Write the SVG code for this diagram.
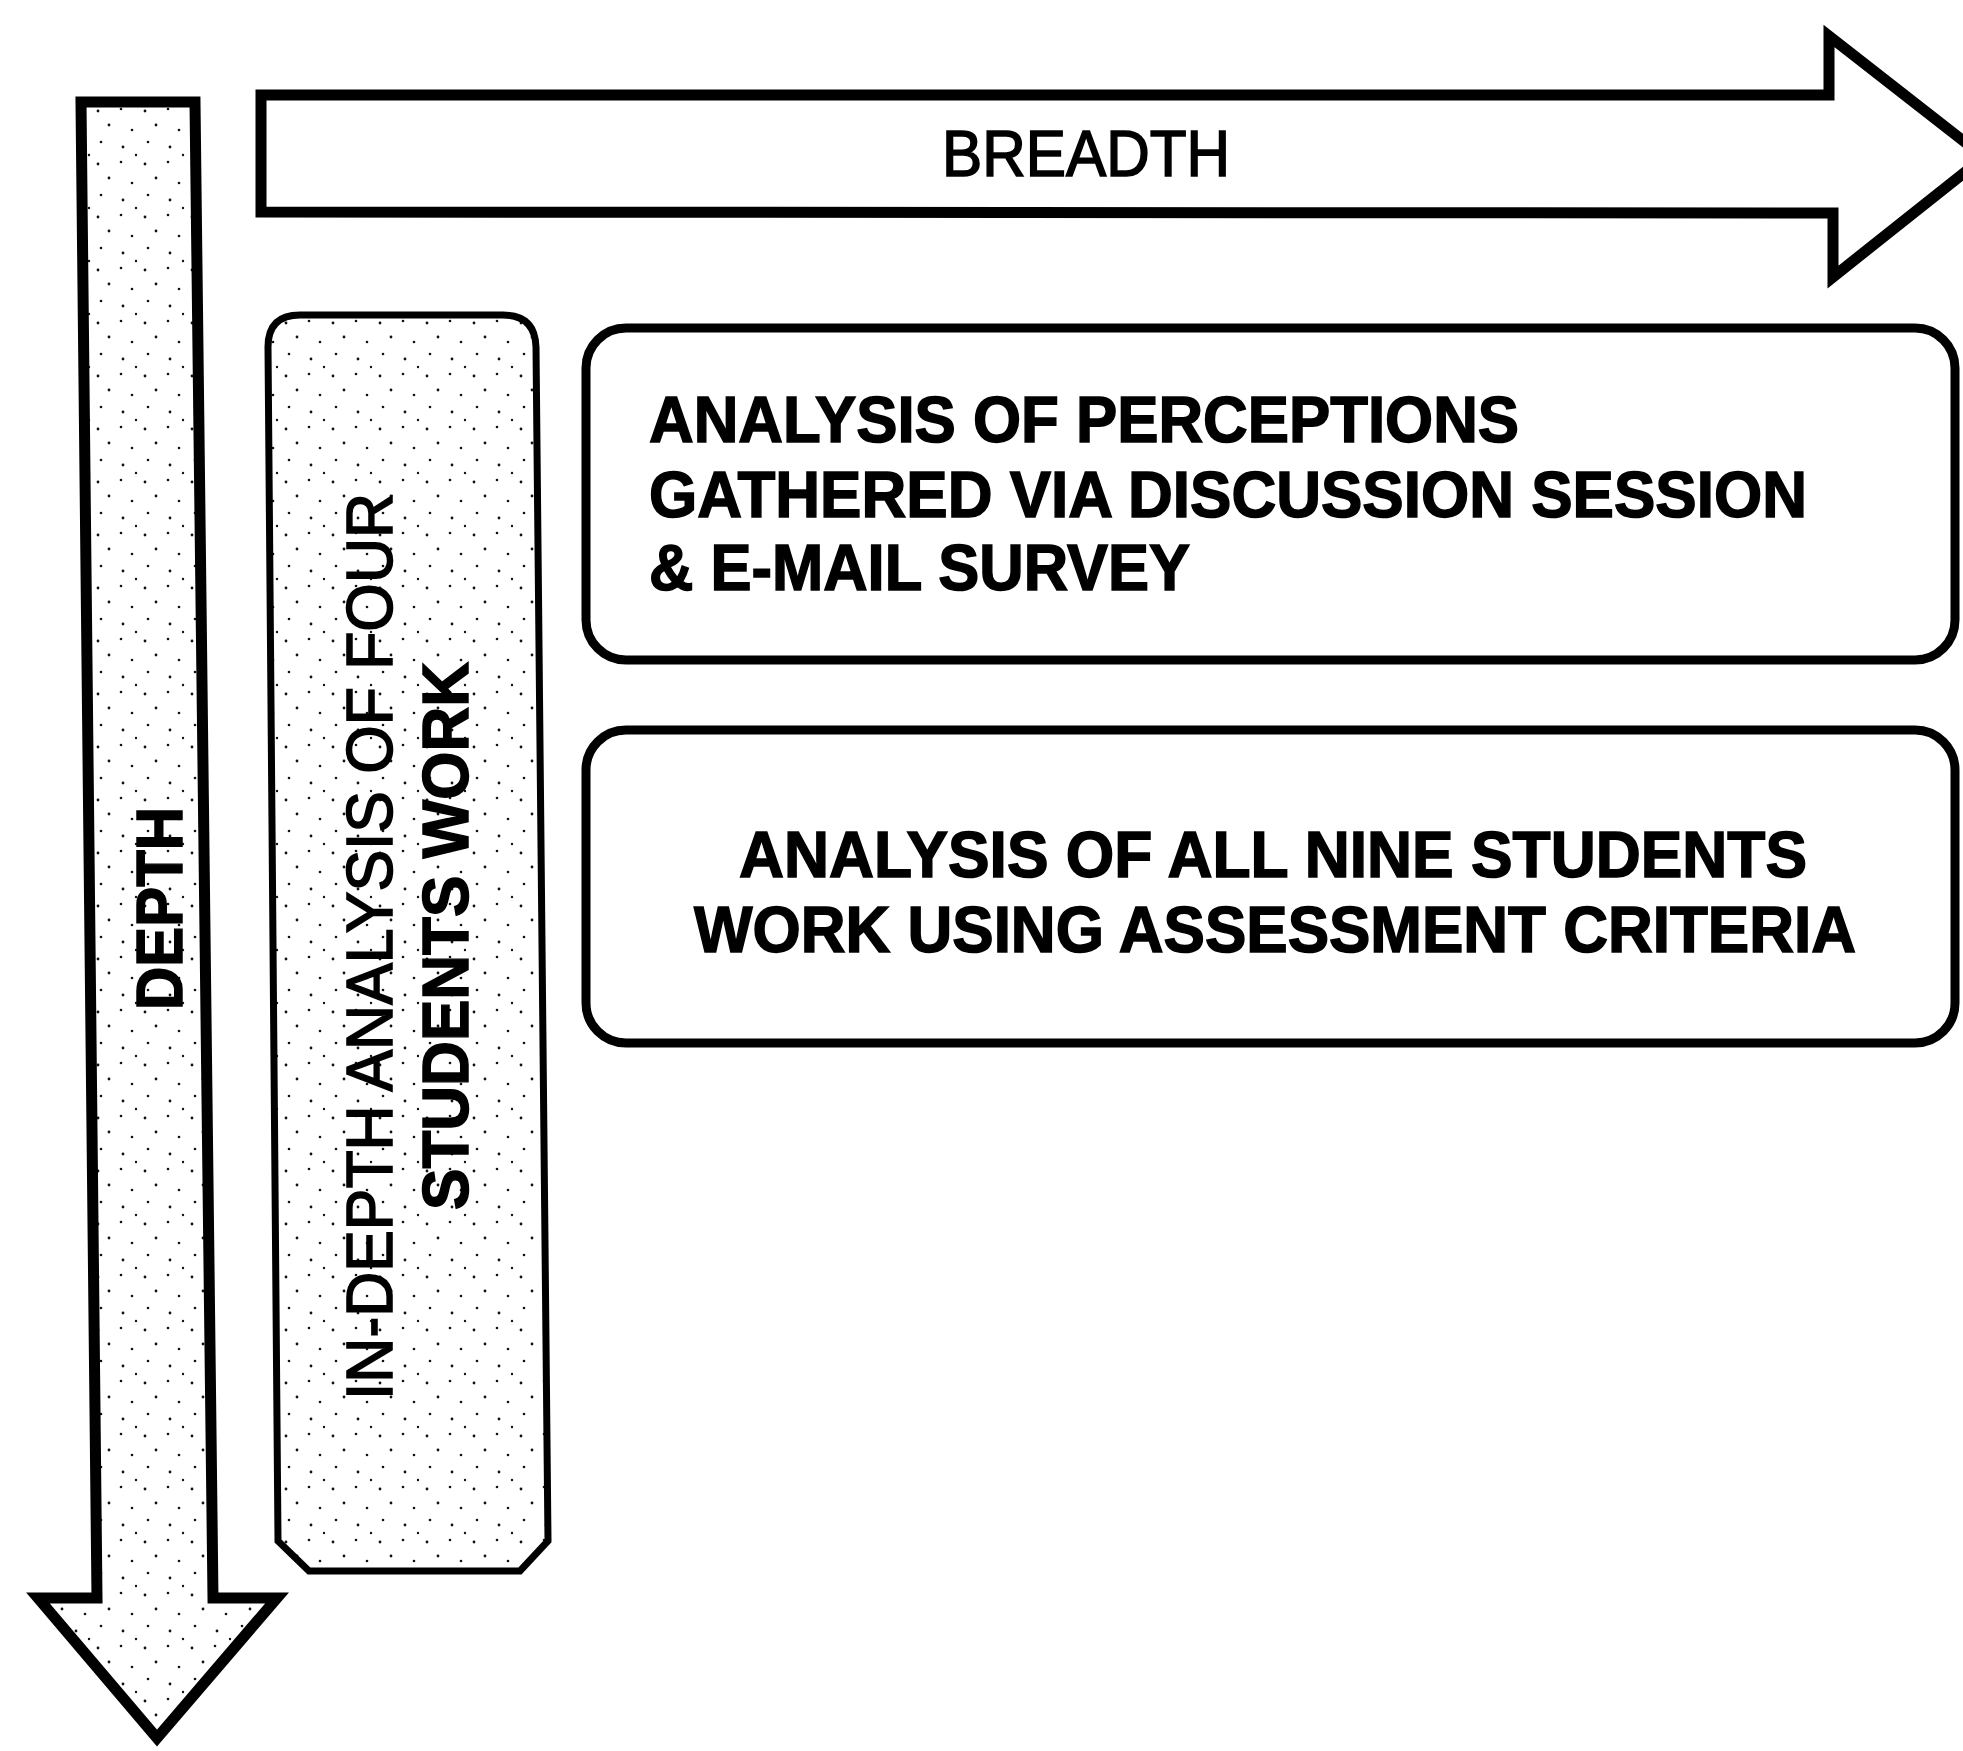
<svg xmlns="http://www.w3.org/2000/svg" width="1963" height="1751" viewBox="0 0 1963 1751">
<defs>
<pattern id="stipple" width="47" height="53" patternUnits="userSpaceOnUse">
<rect width="47" height="53" fill="#fff"/>
<circle cx="4" cy="5" r="1.4" fill="#111"/>
<circle cx="27" cy="3" r="1.3" fill="#111"/>
<circle cx="15" cy="19" r="1.4" fill="#111"/>
<circle cx="38" cy="24" r="1.3" fill="#111"/>
<circle cx="7" cy="36" r="1.3" fill="#111"/>
<circle cx="29" cy="41" r="1.4" fill="#111"/>
<circle cx="42" cy="49" r="1.2" fill="#111"/>
</pattern>
</defs>
<style>
.arrow{stroke:#000;stroke-width:11;stroke-linejoin:miter}
.box{fill:#fff;stroke:#000;stroke-width:9}
.t{font-family:"Liberation Sans",Arial,sans-serif;font-size:65px;fill:#000}
.b{font-weight:bold;stroke:#000;stroke-width:1.5}
.m{stroke:#000;stroke-width:1.6}
</style>
<rect width="1963" height="1751" fill="#fff"/>

<g id="connectors">
<polygon id="depth-arrow" class="arrow" fill="url(#stipple)" points="81,102 195,102 213,1598 277,1598 157,1738 38,1598 97,1598"/>
<polygon id="breadth-arrow" class="arrow" fill="#fff" points="261,95 1829,95 1829,36 1984,157 1833,277 1833,213 261,212"/>
</g>

<g id="depth-label">
<text class="t b" transform="translate(182,1010) rotate(-90)" textLength="203" lengthAdjust="spacingAndGlyphs">DEPTH</text>
</g>
<g id="breadth-label">
<text class="t m" x="942" y="176" textLength="288" lengthAdjust="spacingAndGlyphs">BREADTH</text>
</g>

<g id="in-depth-box">
<path d="M268,347 Q268,315 300,315 L503,315 Q535,315 536,347 L548,1541 L520,1571 L309,1571 L278,1541 Z" fill="url(#stipple)" stroke="#000" stroke-width="7"/>
<text class="t m" transform="translate(392,1400) rotate(-90)" textLength="907" lengthAdjust="spacingAndGlyphs">IN-DEPTH ANALYSIS OF FOUR</text>
<text class="t b" transform="translate(468,1210) rotate(-90)" textLength="548" lengthAdjust="spacingAndGlyphs">STUDENTS WORK</text>
</g>

<g id="perceptions-box">
<rect class="box" x="586" y="328" width="1369" height="332" rx="40" ry="40"/>
<text class="t b" x="649" y="442" textLength="870" lengthAdjust="spacingAndGlyphs">ANALYSIS OF PERCEPTIONS</text>
<text class="t b" x="649" y="517" textLength="1158" lengthAdjust="spacingAndGlyphs">GATHERED VIA DISCUSSION SESSION</text>
<text class="t b" x="649" y="590" textLength="541" lengthAdjust="spacingAndGlyphs">&amp; E-MAIL SURVEY</text>
</g>

<g id="nine-students-box">
<rect class="box" x="586" y="730" width="1369" height="313" rx="40" ry="40"/>
<text class="t b" x="739" y="877" textLength="1068" lengthAdjust="spacingAndGlyphs">ANALYSIS OF ALL NINE STUDENTS</text>
<text class="t b" x="694" y="952" textLength="1162" lengthAdjust="spacingAndGlyphs">WORK USING ASSESSMENT CRITERIA</text>
</g>
</svg>
